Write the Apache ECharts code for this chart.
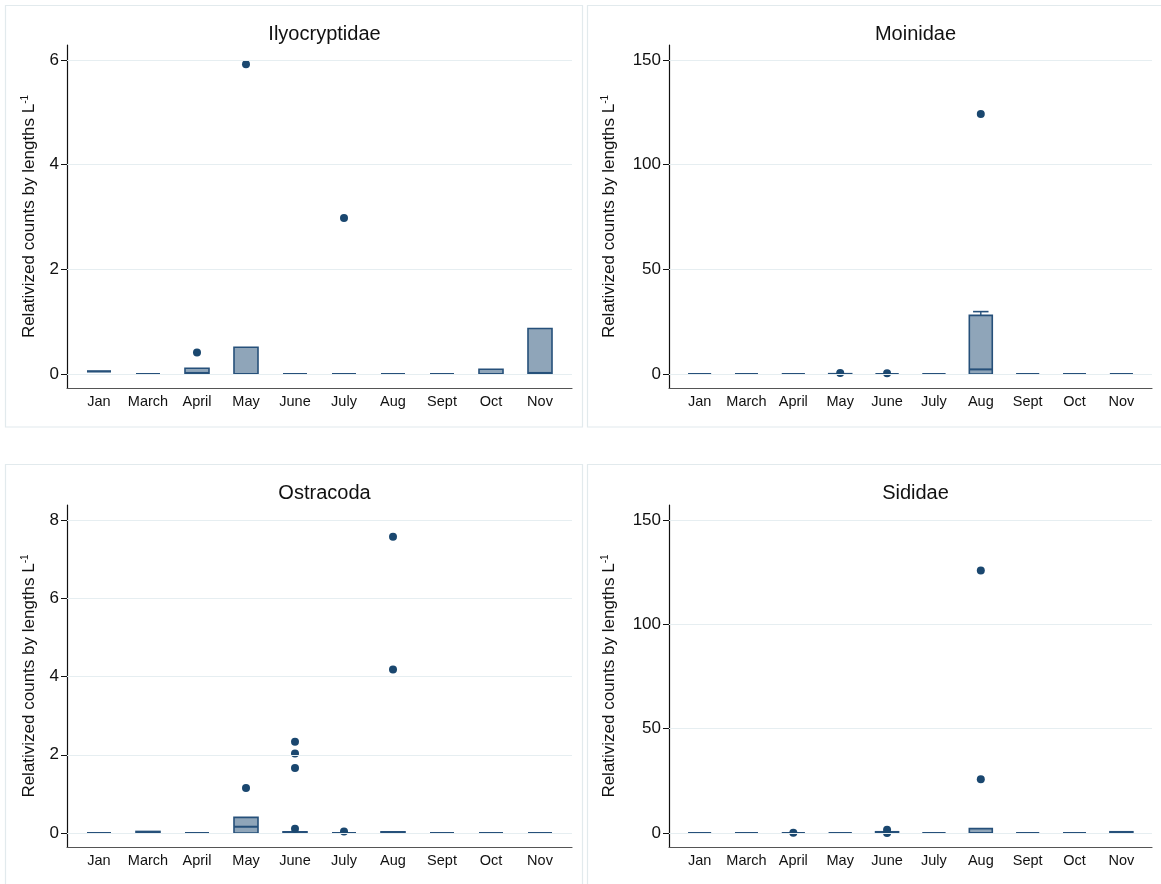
<!DOCTYPE html>
<html><head><meta charset="utf-8">
<script src="https://cdn.jsdelivr.net/npm/echarts@6/dist/echarts.min.js"></script>
<style>html,body{margin:0;padding:0;background:#fff}#c{width:1161px;height:884px}</style>
</head><body><div id="c"></div>
<script>
// ---------- data ----------
const months = ['Jan','March','April','May','June','July','Aug','Sept','Oct','Nov'];
const titles = ['Ilyocryptidae','Moinidae','Ostracoda','Sididae'];
const yName = 'Relativized counts by lengths L';

// box stats per month: [lower whisker, Q1, median, Q3, upper whisker]
const ilyoTicks = [0,2,4,6];
const ilyoBoxes = [
  [0.05,0.05,0.05,0.05,0.05],
  [0,0,0,0,0],
  [0,0,0.02,0.11,0.11],
  [0,0,0,0.51,0.51],
  [0,0,0,0,0],
  [0,0,0,0,0],
  [0,0,0,0,0],
  [0,0,0,0,0],
  [0,0,0,0.09,0.09],
  [0,0,0.02,0.87,0.87]
];
const ilyoOutliers = [[2,0.41],[3,5.92],[5,2.98]];

const moinTicks = [0,50,100,150];
const moinBoxes = [
  [0,0,0,0,0],
  [0,0,0,0,0],
  [0,0,0,0,0],
  [0,0,0,0.15,0.15],
  [0,0,0,0,0],
  [0,0,0,0,0],
  [0,0,2.2,28,29.8],
  [0,0,0,0,0],
  [0,0,0,0,0],
  [0,0,0,0,0]
];
const moinOutliers = [[3,0.5],[4,0.3],[6,124.2]];

const ostrTicks = [0,2,4,6,8];
const ostrBoxes = [
  [0,0,0,0,0],
  [0,0,0.01,0.04,0.04],
  [0,0,0,0,0],
  [0,0,0.16,0.40,0.40],
  [0,0,0,0.03,0.03],
  [0,0,0,0,0],
  [0,0,0,0.03,0.03],
  [0,0,0,0,0],
  [0,0,0,0,0],
  [0,0,0,0,0]
];
const ostrOutliers = [[3,1.15],[4,2.33],[4,2.03],[4,1.66],[4,0.11],[5,0.04],[6,7.57],[6,4.18]];

const sidiTicks = [0,50,100,150];
const sidiBoxes = [
  [0,0,0,0,0],
  [0,0,0,0,0],
  [0,0,0,0,0],
  [0,0,0,0,0],
  [0.2,0.2,0.3,0.6,0.6],
  [0,0,0,0,0],
  [0,0,0,2.1,2.1],
  [0,0,0,0,0],
  [0,0,0,0,0],
  [0,0,0,0.6,0.6]
];
const sidiOutliers = [[2,0.1],[4,1.6],[4,0.0],[6,125.8],[6,25.8]];

// ---------- styling / layout ----------
const FONT = '"Liberation Sans", Arial, Helvetica, sans-serif';
const BOX_FILL = '#8fa5b9';
const BOX_LINE = '#26507a';
const DOT = '#1a476f';
const GRID_C = '#e6eef1';
const PANEL_C = '#e2eaed';

const panels = [
  {title: titles[0], ticks: ilyoTicks, boxes: ilyoBoxes, out: ilyoOutliers, left: 67, right: 589, top: 45, bottom: 496, nameGap: 29.5},
  {title: titles[1], ticks: moinTicks, boxes: moinBoxes, out: moinOutliers, left: 669, right: 9, top: 45, bottom: 496, nameGap: 51.5},
  {title: titles[2], ticks: ostrTicks, boxes: ostrBoxes, out: ostrOutliers, left: 67, right: 589, top: 505, bottom: 37, nameGap: 29.5},
  {title: titles[3], ticks: sidiTicks, boxes: sidiBoxes, out: sidiOutliers, left: 669, right: 9, top: 505, bottom: 37, nameGap: 51.5}
];

function boxRender(params, api) {
  const x = api.value(0);
  const lo = api.value(1), q1 = api.value(2), md = api.value(3), q3 = api.value(4), hi = api.value(5);
  const band = api.size([1, 0])[0];
  const w = band * 0.49, cw = band * 0.33;
  const c = api.coord([x, q1])[0];
  const yLo = api.coord([x, lo])[1], yQ1 = api.coord([x, q1])[1], yMd = api.coord([x, md])[1];
  const yQ3 = api.coord([x, q3])[1], yHi = api.coord([x, hi])[1];
  const children = [];
  if (yHi < yQ3 - 0.5) {
    children.push({type: 'line', shape: {x1: c, y1: yQ3, x2: c, y2: yHi}, style: {stroke: BOX_LINE, lineWidth: 1.4}});
    children.push({type: 'line', shape: {x1: c - cw / 2, y1: yHi, x2: c + cw / 2, y2: yHi}, style: {stroke: BOX_LINE, lineWidth: 1.6}});
  }
  if (yLo > yQ1 + 0.5) {
    children.push({type: 'line', shape: {x1: c, y1: yQ1, x2: c, y2: yLo}, style: {stroke: BOX_LINE, lineWidth: 1.4}});
    children.push({type: 'line', shape: {x1: c - cw / 2, y1: yLo, x2: c + cw / 2, y2: yLo}, style: {stroke: BOX_LINE, lineWidth: 1.6}});
  }
  children.push({type: 'rect', shape: {x: c - w / 2, y: yQ3, width: w, height: Math.max(yQ1 - yQ3, 0)},
    style: {fill: BOX_FILL, stroke: BOX_LINE, lineWidth: 1.6}});
  children.push({type: 'line', shape: {x1: c - w / 2, y1: yMd, x2: c + w / 2, y2: yMd}, style: {stroke: BOX_LINE, lineWidth: 2}});
  return {type: 'group', children};
}

const grids = [], xAxes = [], yAxes = [], series = [], titleList = [];
panels.forEach((p, k) => {
  grids.push({left: p.left, right: p.right, top: p.top, bottom: p.bottom, containLabel: false});
  const H = 884 - p.top - p.bottom;
  const W = 1161 - p.left - p.right;
  const topTick = p.ticks[p.ticks.length - 1];
  const pxPerUnit = (H - 29) / topTick;
  xAxes.push({
    type: 'value', gridIndex: k, min: -0.653, max: 9.653,
    axisLine: {show: true, onZero: false, lineStyle: {color: '#555', width: 1.2}},
    axisTick: {show: false},
    splitLine: {show: false},
    axisLabel: {customValues: months.map((m, i) => i), formatter: v => months[Math.round(v)] || '',
      fontSize: 14.5, color: '#111', fontFamily: FONT, margin: 6}
  });
  yAxes.push({
    type: 'value', gridIndex: k,
    min: -14 / pxPerUnit, max: topTick + 15 / pxPerUnit,
    axisLine: {show: true, onZero: false, lineStyle: {color: '#111', width: 1.2}},
    axisTick: {show: true, length: 6, customValues: p.ticks, lineStyle: {color: '#111'}},
    axisLabel: {customValues: p.ticks, fontSize: 17, color: '#111', fontFamily: FONT, margin: 8},
    splitLine: {show: false},
    name: yName + '{sup|-1}', nameLocation: 'middle', nameRotate: 90, nameGap: p.nameGap,
    nameTextStyle: {fontSize: 17, color: '#111', fontFamily: FONT,
      rich: {sup: {fontSize: 10, verticalAlign: 'top', fontFamily: FONT, color: '#111'}}}
  });
  titleList.push({
    text: p.title, left: p.left + W / 2, top: k < 2 ? 19 : 478, textAlign: 'center',
    textStyle: {fontSize: 20, fontWeight: 'normal', color: '#111', fontFamily: FONT}
  });
  series.push({
    type: 'line', xAxisIndex: k, yAxisIndex: k, data: [], z: 1, silent: true,
    markLine: {silent: true, symbol: ['none', 'none'], label: {show: false},
      lineStyle: {color: GRID_C, width: 1.2, type: 'solid'},
      emphasis: {disabled: true},
      data: p.ticks.map(v => ({yAxis: v}))}
  });
  series.push({
    type: 'custom', xAxisIndex: k, yAxisIndex: k, z: 3, silent: true,
    renderItem: boxRender,
    encode: {x: 0, y: [1, 2, 3, 4, 5]},
    data: p.boxes.map((b, i) => [i].concat(b))
  });
  series.push({
    type: 'scatter', xAxisIndex: k, yAxisIndex: k, z: 4, silent: true,
    symbolSize: 8, itemStyle: {color: DOT, opacity: 1},
    data: p.out
  });
});

const panelRects = [
  [5.5, 5.5, 577, 421.5],
  [587.5, 5.5, 600, 421.5],
  [5.5, 464.5, 577, 440],
  [587.5, 464.5, 600, 440]
];

const chart = echarts.init(document.getElementById('c'), null, {renderer: 'canvas'});
chart.setOption({
  animation: false,
  backgroundColor: '#ffffff',
  title: titleList,
  grid: grids,
  xAxis: xAxes,
  yAxis: yAxes,
  series: series,
  graphic: panelRects.map(r => ({type: 'rect', z: -10, silent: true,
    shape: {x: r[0], y: r[1], width: r[2], height: r[3]},
    style: {fill: 'none', stroke: PANEL_C, lineWidth: 1.2}}))
});
</script></body></html>
